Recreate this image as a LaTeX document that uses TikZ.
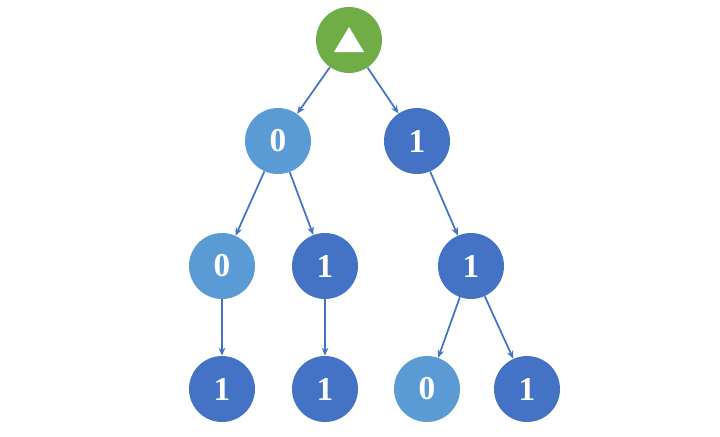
\documentclass[tikz,border=0pt]{standalone}
\usepackage{fontspec}
\setmainfont{Liberation Serif}
\usetikzlibrary{arrows.meta}
\definecolor{gr}{HTML}{70AD47}
\definecolor{lb}{HTML}{5B9BD5}
\definecolor{db}{HTML}{4472C4}
\tikzset{
  bit/.style={circle, minimum size=49.5pt, inner sep=0pt, text=white, font=\fontsize{25}{25}\selectfont\bfseries},
  lo/.style={bit, fill=lb},
  hi/.style={bit, fill=db},
  rootnode/.style={bit, fill=gr},
  edge/.style={draw=db, line width=1.3pt, -{Stealth[length=6pt,width=5pt]}}
}
\begin{document}
\begin{tikzpicture}[x=0.75pt,y=-0.75pt]
\useasboundingbox (0,0) rectangle (720,436);
\node[rootnode] (r) at (349,40) {};
\fill[white] (r.center) ++(0,-13) -- ++(15,25) -- ++(-30,0) -- cycle;
\node[lo] (a) at (278,141) {0};
\node[hi] (b) at (417,141) {1};
\node[lo] (c) at (222,266) {0};
\node[hi] (d) at (325,266) {1};
\node[hi] (e) at (471,266) {1};
\node[hi] (f) at (222,389) {1};
\node[hi] (g) at (325,389) {1};
\node[lo] (h) at (427,389) {0};
\node[hi] (i) at (527,389) {1};
\draw[edge] (r) -- (a);
\draw[edge] (r) -- (b);
\draw[edge] (a) -- (c);
\draw[edge] (a) -- (d);
\draw[edge] (b) -- (e);
\draw[edge] (c) -- (f);
\draw[edge] (d) -- (g);
\draw[edge] (e) -- (h);
\draw[edge] (e) -- (i);
\end{tikzpicture}
\end{document}
